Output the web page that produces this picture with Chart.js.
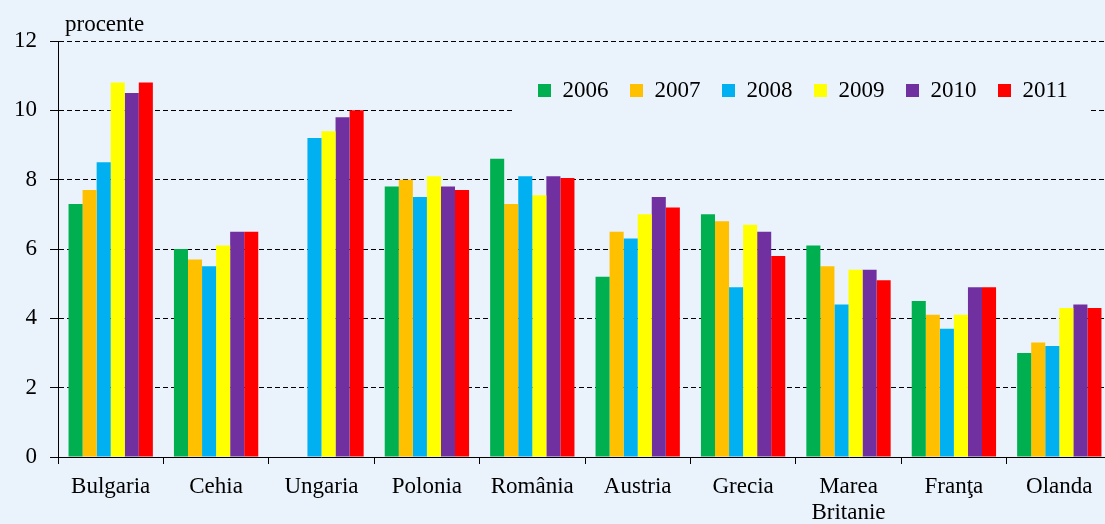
<!DOCTYPE html>
<html>
<head>
<meta charset="utf-8">
<script src="https://cdn.jsdelivr.net/npm/chart.js@4.4.1/dist/chart.umd.min.js"></script>
<style>
  html, body { margin: 0; padding: 0; overflow: hidden; background: #EAF2FB; }
  #wrap { width: 1112px; height: 524px; }
</style>
</head>
<body>
<div id="wrap"><canvas id="c" width="1112" height="524" style="width:1112px;height:524px"></canvas></div>
<script>
const categories = ['Bulgaria', 'Cehia', 'Ungaria', 'Polonia', 'România', 'Austria', 'Grecia', ['Marea', 'Britanie'], 'Franţa', 'Olanda'];
const years = ['2006', '2007', '2008', '2009', '2010', '2011'];
const v2006 = [7.3, 6.0, null, 7.8, 8.6, 5.2, 7.0, 6.1, 4.5, 3.0];
const v2007 = [7.7, 5.7, null, 8.0, 7.3, 6.5, 6.8, 5.5, 4.1, 3.3];
const v2008 = [8.5, 5.5, 9.2, 7.5, 8.1, 6.3, 4.9, 4.4, 3.7, 3.2];
const v2009 = [10.8, 6.1, 9.4, 8.1, 7.55, 7.0, 6.7, 5.4, 4.1, 4.3];
const v2010 = [10.5, 6.5, 9.8, 7.8, 8.1, 7.5, 6.5, 5.4, 4.9, 4.4];
const v2011 = [10.8, 6.5, 10.0, 7.7, 8.05, 7.2, 5.8, 5.1, 4.9, 4.3];
const yTicks = [0, 2, 4, 6, 8, 10, 12];
const unitLabel = 'procente';

const colors = ['#00B050', '#FFC000', '#00B0F0', '#FFFF00', '#7030A0', '#FF0000'];
const series = [v2006, v2007, v2008, v2009, v2010, v2011];
const BG = '#EAF2FB';
const FONT = '"Liberation Serif", "Times New Roman", serif';

const bgPlugin = {
  id: 'bg',
  beforeDraw(chart) {
    const ctx = chart.ctx;
    ctx.save();
    ctx.fillStyle = BG;
    ctx.fillRect(0, 0, chart.width, chart.height);
    ctx.restore();
  }
};

const legendPlace = {
  id: 'legendPlace',
  afterLayout(chart) {
    const lg = chart.legend;
    const pad = lg.options.labels.padding;
    lg.left = 538 - pad;
    lg.right = 1110;
    lg.top = 79 - pad;
    lg.bottom = lg.top + 80;
    lg.width = lg.right - lg.left;
    lg.height = lg.bottom - lg.top;
  },
  afterDraw(chart) {
    const ctx = chart.ctx;
    ctx.save();
    ctx.fillStyle = BG;
    ctx.fillRect(515, 64, 573, 50);
    ctx.fillStyle = '#000';
    ctx.font = '23px ' + FONT;
    ctx.textAlign = 'left';
    ctx.textBaseline = 'alphabetic';
    ctx.fillText(unitLabel, 65, 31);
    ctx.restore();
    chart.legend.draw();
  }
};

new Chart(document.getElementById('c'), {
  type: 'bar',
  data: {
    labels: categories,
    datasets: years.map((y, i) => ({
      label: y,
      data: series[i],
      backgroundColor: colors[i],
      borderWidth: 0,
      categoryPercentage: 0.8,
      barPercentage: 1.0
    }))
  },
  options: {
    responsive: false,
    animation: false,
    layout: { padding: { left: 0, right: 0, top: 40, bottom: 0 } },
    plugins: {
      legend: {
        position: 'top',
        align: 'start',
        maxHeight: 1,
        labels: {
          boxWidth: 13,
          boxHeight: 13,
          padding: 21.5,
          color: '#000',
          font: { family: FONT, size: 23 }
        }
      },
      tooltip: { enabled: false },
      title: { display: false }
    },
    scales: {
      x: {
        grid: { display: true, drawOnChartArea: false, drawTicks: true, tickLength: 7, color: '#000', offset: true },
        border: { display: true, color: '#000', width: 1 },
        ticks: { color: '#000', font: { family: FONT, size: 23, lineHeight: 1.13 }, padding: 10, maxRotation: 0, autoSkip: false },
        afterFit(scale) { scale.height = 67; }
      },
      y: {
        min: 0,
        max: 12,
        afterBuildTicks(scale) { scale.ticks = yTicks.map(v => ({ value: v })); },
        grid: { color: '#000', lineWidth: 1, drawTicks: true, tickLength: 8, tickColor: '#000' },
        border: { display: true, color: '#000', width: 1, dash: [5, 3] },
        ticks: { color: '#000', font: { family: FONT, size: 23 }, padding: 13 },
        afterFit(scale) { scale.width = 58; }
      }
    }
  },
  plugins: [bgPlugin, legendPlace]
});
</script>
</body>
</html>
